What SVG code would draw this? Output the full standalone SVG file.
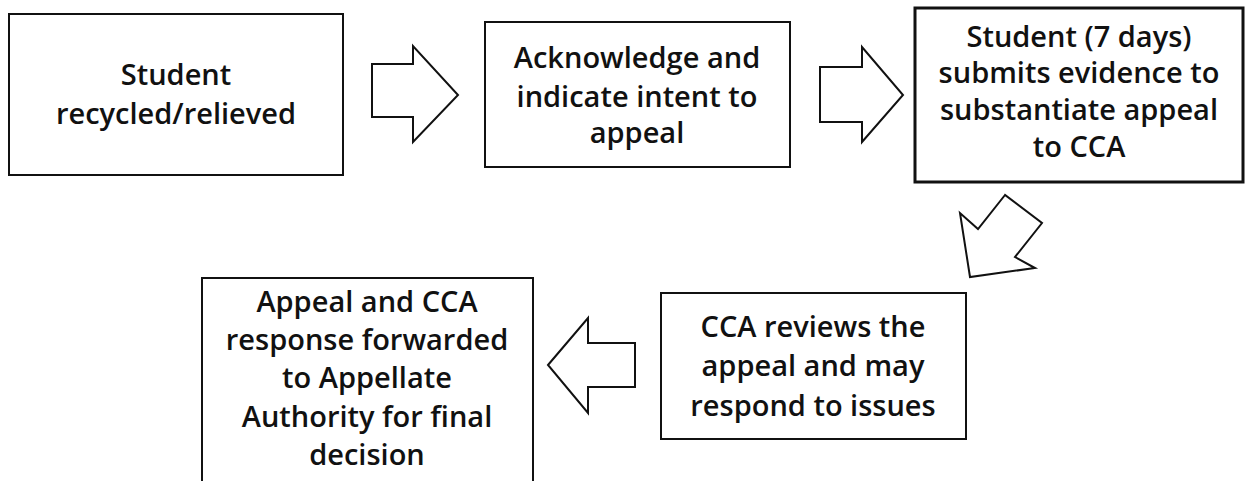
<svg xmlns="http://www.w3.org/2000/svg" width="1248" height="481" viewBox="0 0 1248 481">
<style>
.box{fill:#fff;stroke:#111;stroke-width:2}
.thick{stroke-width:3}
.arr{fill:#fff;stroke:#111;stroke-width:2;stroke-linejoin:miter}
text{font-family:"Open Sans","Noto Sans",sans-serif;font-weight:600;font-size:29px;fill:#111;text-anchor:middle}
</style>
<rect width="1248" height="481" fill="#fff"/>
<g id="connectors">
<polygon class="arr" points="372,64 413,64 413,46 458,95 413,142 413,117 372,117"/>
<polygon class="arr" points="820,67 862,67 862,47 903,95 862,142 862,122 820,122"/>
<polygon class="arr" points="1005,195 978,229 960,213 970,277 1035,268 1015,257 1042,223"/>
<polygon class="arr" points="548,365 588,318 588,343 635,343 635,387 588,387 588,413"/>
</g>
<g id="n1">
<rect class="box" x="9" y="14" width="334" height="161"/>
<text x="176" y="85">Student</text>
<text x="176" y="124">recycled/relieved</text>
</g>
<g id="n2">
<rect class="box" x="485" y="22" width="305" height="145"/>
<text x="637" y="68">Acknowledge and</text>
<text x="637" y="107">indicate intent to</text>
<text x="637" y="143">appeal</text>
</g>
<g id="n3">
<rect class="box thick" x="915" y="8" width="328" height="174"/>
<text x="1079" y="47">Student (7 days)</text>
<text x="1079" y="83">submits evidence to</text>
<text x="1079" y="120">substantiate appeal</text>
<text x="1079" y="157">to CCA</text>
</g>
<g id="n4">
<rect class="box" x="661" y="293" width="305" height="146"/>
<text x="813" y="337">CCA reviews the</text>
<text x="813" y="376">appeal and may</text>
<text x="813" y="416">respond to issues</text>
</g>
<g id="n5">
<path class="box" d="M202,490 V278 H533 V490"/>
<text x="367" y="312">Appeal and CCA</text>
<text x="367" y="350">response forwarded</text>
<text x="367" y="388">to Appellate</text>
<text x="367" y="427">Authority for final</text>
<text x="367" y="465">decision</text>
</g>
</svg>
